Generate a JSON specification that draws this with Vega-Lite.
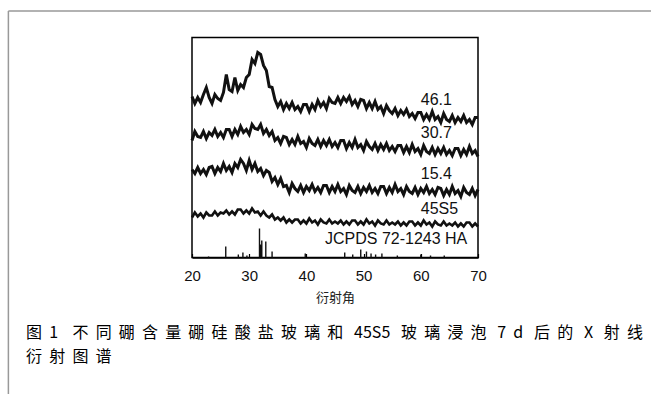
{
  "$schema": "https://vega.github.io/schema/vega-lite/v6.json",
  "autosize": {"type": "none"},
  "padding": {"left": 192, "top": 37.5, "right": 173, "bottom": 136.5},
  "width": 286,
  "height": 220,
  "background": "white",
  "config": {"view": {"stroke": "#000", "strokeWidth": 1.5}},
  "datasets": {
    "s461": [{"t":20,"v":161},{"t":20.5,"v":154},{"t":21,"v":160},{"t":21.5,"v":155},{"t":22,"v":163},{"t":22.5,"v":170},{"t":23,"v":160},{"t":23.5,"v":154},{"t":24,"v":163},{"t":24.5,"v":159},{"t":25,"v":157},{"t":25.5,"v":165},{"t":26,"v":183},{"t":26.5,"v":168},{"t":27,"v":166},{"t":27.5,"v":180},{"t":28,"v":167},{"t":28.5,"v":173},{"t":29,"v":170},{"t":29.5,"v":180},{"t":30,"v":183},{"t":30.5,"v":198},{"t":31,"v":194},{"t":31.5,"v":205},{"t":32,"v":203},{"t":32.5,"v":192},{"t":33,"v":187},{"t":33.5,"v":171},{"t":34,"v":170},{"t":34.5,"v":158},{"t":35,"v":151},{"t":35.5,"v":156},{"t":36,"v":148},{"t":36.5,"v":154},{"t":37,"v":149},{"t":37.5,"v":155},{"t":38,"v":148},{"t":38.5,"v":151},{"t":39,"v":146},{"t":39.5,"v":153},{"t":40,"v":153},{"t":40.5,"v":146},{"t":41,"v":153},{"t":41.5,"v":148},{"t":42,"v":157},{"t":42.5,"v":151},{"t":43,"v":155},{"t":43.5,"v":149},{"t":44,"v":159},{"t":44.5,"v":155},{"t":45,"v":154},{"t":45.5,"v":160},{"t":46,"v":154},{"t":46.5,"v":160},{"t":47,"v":156},{"t":47.5,"v":161},{"t":48,"v":153},{"t":48.5,"v":157},{"t":49,"v":151},{"t":49.5,"v":158},{"t":50,"v":157},{"t":50.5,"v":149},{"t":51,"v":155},{"t":51.5,"v":149},{"t":52,"v":156},{"t":52.5,"v":148},{"t":53,"v":151},{"t":53.5,"v":144},{"t":54,"v":152},{"t":54.5,"v":147},{"t":55,"v":144},{"t":55.5,"v":149},{"t":56,"v":142},{"t":56.5,"v":147},{"t":57,"v":143},{"t":57.5,"v":148},{"t":58,"v":141},{"t":58.5,"v":144},{"t":59,"v":139},{"t":59.5,"v":145},{"t":60,"v":145},{"t":60.5,"v":138},{"t":61,"v":143},{"t":61.5,"v":138},{"t":62,"v":146},{"t":62.5,"v":138},{"t":63,"v":141},{"t":63.5,"v":135},{"t":64,"v":144},{"t":64.5,"v":138},{"t":65,"v":136},{"t":65.5,"v":142},{"t":66,"v":135},{"t":66.5,"v":140},{"t":67,"v":136},{"t":67.5,"v":142},{"t":68,"v":135},{"t":68.5,"v":138},{"t":69,"v":133},{"t":69.5,"v":140},{"t":70,"v":140}],
    "s307": [{"t":20,"v":117},{"t":20.5,"v":126},{"t":21,"v":121},{"t":21.5,"v":120},{"t":22,"v":126},{"t":22.5,"v":119},{"t":23,"v":125},{"t":23.5,"v":122},{"t":24,"v":128},{"t":24.5,"v":121},{"t":25,"v":125},{"t":25.5,"v":120},{"t":26,"v":128},{"t":26.5,"v":128},{"t":27,"v":121},{"t":27.5,"v":128},{"t":28,"v":123},{"t":28.5,"v":131},{"t":29,"v":125},{"t":29.5,"v":128},{"t":30,"v":123},{"t":30.5,"v":133},{"t":31,"v":129},{"t":31.5,"v":128},{"t":32,"v":133},{"t":32.5,"v":124},{"t":33,"v":128},{"t":33.5,"v":122},{"t":34,"v":126},{"t":34.5,"v":117},{"t":35,"v":120},{"t":35.5,"v":114},{"t":36,"v":121},{"t":36.5,"v":120},{"t":37,"v":113},{"t":37.5,"v":118},{"t":38,"v":113},{"t":38.5,"v":121},{"t":39,"v":114},{"t":39.5,"v":116},{"t":40,"v":110},{"t":40.5,"v":119},{"t":41,"v":114},{"t":41.5,"v":112},{"t":42,"v":118},{"t":42.5,"v":111},{"t":43,"v":117},{"t":43.5,"v":112},{"t":44,"v":118},{"t":44.5,"v":111},{"t":45,"v":115},{"t":45.5,"v":110},{"t":46,"v":117},{"t":46.5,"v":117},{"t":47,"v":109},{"t":47.5,"v":115},{"t":48,"v":110},{"t":48.5,"v":118},{"t":49,"v":110},{"t":49.5,"v":113},{"t":50,"v":107},{"t":50.5,"v":116},{"t":51,"v":111},{"t":51.5,"v":108},{"t":52,"v":114},{"t":52.5,"v":107},{"t":53,"v":113},{"t":53.5,"v":108},{"t":54,"v":114},{"t":54.5,"v":107},{"t":55,"v":111},{"t":55.5,"v":106},{"t":56,"v":112},{"t":56.5,"v":112},{"t":57,"v":105},{"t":57.5,"v":111},{"t":58,"v":105},{"t":58.5,"v":113},{"t":59,"v":106},{"t":59.5,"v":109},{"t":60,"v":103},{"t":60.5,"v":112},{"t":61,"v":106},{"t":61.5,"v":104},{"t":62,"v":110},{"t":62.5,"v":103},{"t":63,"v":109},{"t":63.5,"v":104},{"t":64,"v":110},{"t":64.5,"v":103},{"t":65,"v":107},{"t":65.5,"v":102},{"t":66,"v":109},{"t":66.5,"v":109},{"t":67,"v":102},{"t":67.5,"v":108},{"t":68,"v":103},{"t":68.5,"v":111},{"t":69,"v":104},{"t":69.5,"v":107},{"t":70,"v":101}],
    "s154": [{"t":20,"v":88},{"t":20.5,"v":84},{"t":21,"v":90},{"t":21.5,"v":84},{"t":22,"v":88},{"t":22.5,"v":83},{"t":23,"v":90},{"t":23.5,"v":91},{"t":24,"v":84},{"t":24.5,"v":90},{"t":25,"v":86},{"t":25.5,"v":94},{"t":26,"v":87},{"t":26.5,"v":91},{"t":27,"v":85},{"t":27.5,"v":94},{"t":28,"v":90},{"t":28.5,"v":98},{"t":29,"v":94},{"t":29.5,"v":87},{"t":30,"v":97},{"t":30.5,"v":88},{"t":31,"v":94},{"t":31.5,"v":86},{"t":32,"v":89},{"t":32.5,"v":82},{"t":33,"v":87},{"t":33.5,"v":85},{"t":34,"v":76},{"t":34.5,"v":80},{"t":35,"v":73},{"t":35.5,"v":79},{"t":36,"v":71},{"t":36.5,"v":72},{"t":37,"v":65},{"t":37.5,"v":74},{"t":38,"v":69},{"t":38.5,"v":66},{"t":39,"v":72},{"t":39.5,"v":65},{"t":40,"v":71},{"t":40.5,"v":67},{"t":41,"v":73},{"t":41.5,"v":66},{"t":42,"v":70},{"t":42.5,"v":65},{"t":43,"v":72},{"t":43.5,"v":72},{"t":44,"v":65},{"t":44.5,"v":71},{"t":45,"v":66},{"t":45.5,"v":73},{"t":46,"v":66},{"t":46.5,"v":69},{"t":47,"v":63},{"t":47.5,"v":72},{"t":48,"v":67},{"t":48.5,"v":65},{"t":49,"v":71},{"t":49.5,"v":64},{"t":50,"v":70},{"t":50.5,"v":66},{"t":51,"v":72},{"t":51.5,"v":65},{"t":52,"v":69},{"t":52.5,"v":64},{"t":53,"v":71},{"t":53.5,"v":71},{"t":54,"v":64},{"t":54.5,"v":70},{"t":55,"v":65},{"t":55.5,"v":73},{"t":56,"v":66},{"t":56.5,"v":69},{"t":57,"v":63},{"t":57.5,"v":71},{"t":58,"v":66},{"t":58.5,"v":64},{"t":59,"v":70},{"t":59.5,"v":63},{"t":60,"v":69},{"t":60.5,"v":65},{"t":61,"v":71},{"t":61.5,"v":64},{"t":62,"v":68},{"t":62.5,"v":63},{"t":63,"v":70},{"t":63.5,"v":69},{"t":64,"v":62},{"t":64.5,"v":68},{"t":65,"v":63},{"t":65.5,"v":71},{"t":66,"v":64},{"t":66.5,"v":67},{"t":67,"v":61},{"t":67.5,"v":70},{"t":68,"v":65},{"t":68.5,"v":63},{"t":69,"v":69},{"t":69.5,"v":62},{"t":70,"v":68}],
    "s45": [{"t":20,"v":40},{"t":20.5,"v":45},{"t":21,"v":41},{"t":21.5,"v":44},{"t":22,"v":40},{"t":22.5,"v":45},{"t":23,"v":42},{"t":23.5,"v":42},{"t":24,"v":46},{"t":24.5,"v":42},{"t":25,"v":45},{"t":25.5,"v":44},{"t":26,"v":47},{"t":26.5,"v":43},{"t":27,"v":46},{"t":27.5,"v":43},{"t":28,"v":48},{"t":28.5,"v":48},{"t":29,"v":44},{"t":29.5,"v":47},{"t":30,"v":44},{"t":30.5,"v":49},{"t":31,"v":45},{"t":31.5,"v":46},{"t":32,"v":42},{"t":32.5,"v":46},{"t":33,"v":42},{"t":33.5,"v":40},{"t":34,"v":43},{"t":34.5,"v":38},{"t":35,"v":40},{"t":35.5,"v":37},{"t":36,"v":40},{"t":36.5,"v":35},{"t":37,"v":38},{"t":37.5,"v":35},{"t":38,"v":38},{"t":38.5,"v":38},{"t":39,"v":34},{"t":39.5,"v":37},{"t":40,"v":34},{"t":40.5,"v":39},{"t":41,"v":35},{"t":41.5,"v":37},{"t":42,"v":33},{"t":42.5,"v":38},{"t":43,"v":35},{"t":43.5,"v":34},{"t":44,"v":38},{"t":44.5,"v":34},{"t":45,"v":36},{"t":45.5,"v":34},{"t":46,"v":37},{"t":46.5,"v":33},{"t":47,"v":36},{"t":47.5,"v":33},{"t":48,"v":37},{"t":48.5,"v":37},{"t":49,"v":33},{"t":49.5,"v":36},{"t":50,"v":33},{"t":50.5,"v":38},{"t":51,"v":34},{"t":51.5,"v":36},{"t":52,"v":32},{"t":52.5,"v":37},{"t":53,"v":34},{"t":53.5,"v":33},{"t":54,"v":37},{"t":54.5,"v":33},{"t":55,"v":35},{"t":55.5,"v":33},{"t":56,"v":36},{"t":56.5,"v":32},{"t":57,"v":35},{"t":57.5,"v":32},{"t":58,"v":36},{"t":58.5,"v":36},{"t":59,"v":32},{"t":59.5,"v":35},{"t":60,"v":32},{"t":60.5,"v":37},{"t":61,"v":33},{"t":61.5,"v":35},{"t":62,"v":31},{"t":62.5,"v":36},{"t":63,"v":33},{"t":63.5,"v":32},{"t":64,"v":36},{"t":64.5,"v":32},{"t":65,"v":34},{"t":65.5,"v":32},{"t":66,"v":35},{"t":66.5,"v":31},{"t":67,"v":34},{"t":67.5,"v":31},{"t":68,"v":35},{"t":68.5,"v":35},{"t":69,"v":31},{"t":69.5,"v":34},{"t":70,"v":31}],
    "ha": [{"t":22.9,"v":1},{"t":25.9,"v":11},{"t":28.1,"v":3},{"t":28.9,"v":5},{"t":29.6,"v":2},{"t":31.8,"v":29},{"t":32.0,"v":13},{"t":32.1,"v":12},{"t":32.2,"v":17},{"t":32.9,"v":16},{"t":34.0,"v":6},{"t":39.8,"v":4},{"t":46.7,"v":5},{"t":48.1,"v":3},{"t":49.5,"v":8},{"t":50.5,"v":6},{"t":51.3,"v":4},{"t":52.1,"v":3},{"t":53.2,"v":4},{"t":55.9,"v":2},{"t":60.0,"v":3},{"t":61.7,"v":2},{"t":64.1,"v":2}],
    "labels": [{"t":60,"v":157.5,"l":"46.1"},{"t":60,"v":124.5,"l":"30.7"},{"t":60,"v":83.5,"l":"15.4"},{"t":60,"v":48.5,"l":"45S5"},{"t":43.25,"v":18.5,"l":"JCPDS 72-1243 HA"}],
    "caption": [{"t":-9.0,"v":-67.5,"l":"图\u00a0\u00a01\u00a0\u00a0\u00a0\u00a0不\u00a0\u00a0同\u00a0\u00a0硼\u00a0\u00a0含\u00a0\u00a0量\u00a0\u00a0硼\u00a0\u00a0硅\u00a0\u00a0酸\u00a0\u00a0盐\u00a0\u00a0玻\u00a0\u00a0璃\u00a0\u00a0和\u00a0\u00a0\u00a045S5\u00a0\u00a0\u00a0玻\u00a0\u00a0璃\u00a0\u00a0浸\u00a0\u00a0泡\u00a0\u00a0\u00a07\u00a0\u00a0d\u00a0\u00a0\u00a0后\u00a0\u00a0的\u00a0\u00a0\u00a0X\u00a0\u00a0\u00a0射\u00a0\u00a0线\n衍\u00a0\u00a0射\u00a0\u00a0图\u00a0\u00a0谱"}]
  },
  "encoding": {
    "x": {
      "field": "t", "type": "quantitative",
      "scale": {"domain": [20, 70], "nice": false, "zero": false},
      "axis": {
        "values": [20, 30, 40, 50, 60, 70],
        "title": "衍射角",
        "grid": false,
        "tickSize": -4,
        "tickColor": "#000",
        "tickWidth": 1.2,
        "domainColor": "#000",
        "domainWidth": 1.5,
        "labelFont": "Liberation Sans",
        "labelFontSize": 15,
        "labelColor": "#111",
        "labelPadding": 15,
        "labelFlush": false,
        "titleFont": "Noto Sans CJK SC",
        "titleFontSize": 13,
        "titleFontWeight": "normal",
        "titleColor": "#222",
        "titlePadding": 8
      }
    },
    "y": {
      "field": "v", "type": "quantitative",
      "scale": {"domain": [0, 220], "nice": false, "zero": false},
      "axis": null
    }
  },
  "layer": [
    {"data": {"name": "s461"}, "mark": {"type": "line", "color": "#111", "strokeWidth": 3}},
    {"data": {"name": "s307"}, "mark": {"type": "line", "color": "#111", "strokeWidth": 3}},
    {"data": {"name": "s154"}, "mark": {"type": "line", "color": "#111", "strokeWidth": 3}},
    {"data": {"name": "s45"}, "mark": {"type": "line", "color": "#111", "strokeWidth": 2.6}},
    {"data": {"name": "ha"}, "mark": {"type": "rule", "color": "#111", "strokeWidth": 1.4}, "encoding": {"y2": {"datum": 0}}},
    {"data": {"name": "labels"}, "mark": {"type": "text", "align": "left", "baseline": "middle", "font": "Liberation Sans", "fontSize": 16, "color": "#111"}, "encoding": {"text": {"field": "l"}}},
    {"data": {"name": "caption"}, "mark": {"type": "text", "align": "left", "baseline": "top", "font": "Noto Sans CJK SC", "fontSize": 16, "fontWeight": "normal", "lineHeight": 24, "lineBreak": "\n", "color": "#000"}, "encoding": {"text": {"field": "l"}}},
    {"data": {"values": [{"t": -12.1, "v": 246.5}]}, "mark": {"type": "rule", "color": "#999", "strokeWidth": 1.5}, "encoding": {"y2": {"datum": -140}}},
    {"data": {"values": [{"t": -12.1, "v": 246.5}]}, "mark": {"type": "rule", "color": "#999", "strokeWidth": 1.5}, "encoding": {"x2": {"datum": 102}}}
  ]
}
